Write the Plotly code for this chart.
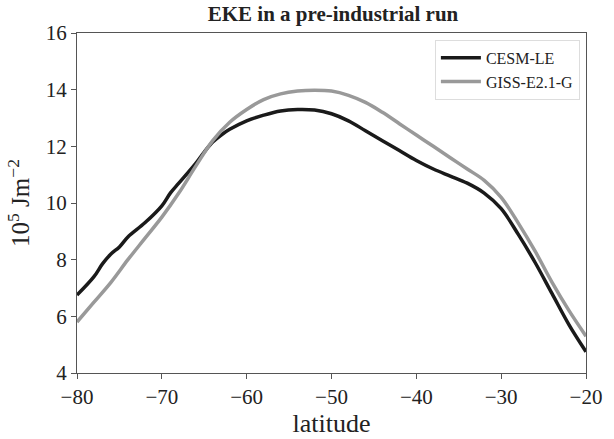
import plotly.graph_objects as go

lat = [-80, -78, -77, -76, -75, -74, -72, -70, -69, -68, -66, -65, -64, -63, -62, -60,
       -58, -56, -54, -52, -50, -48, -46, -44, -42, -40, -38, -36, -34, -32, -30,
       -28, -26, -24, -22, -20]
cesm = [6.75, 7.4, 7.85, 8.2, 8.45, 8.8, 9.3, 9.9, 10.35, 10.7, 11.4, 11.8, 12.15, 12.4,
        12.6, 12.9, 13.1, 13.25, 13.3, 13.28, 13.15, 12.9, 12.55, 12.2, 11.85, 11.5,
        11.2, 10.95, 10.7, 10.35, 9.8, 8.9, 7.9, 6.8, 5.7, 4.75]

lat_g = [-80, -78, -76, -74, -72, -70, -68, -66, -64, -62, -60, -58, -56, -54, -52, -50,
         -48, -46, -44, -42, -40, -38, -36, -34, -32, -30, -28, -26, -24, -22, -20]
giss = [5.8, 6.5, 7.2, 8.0, 8.75, 9.5, 10.35, 11.3, 12.2, 12.85, 13.3, 13.65, 13.85,
        13.95, 13.98, 13.95, 13.8, 13.55, 13.2, 12.8, 12.4, 12.0, 11.6, 11.2, 10.8,
        10.2, 9.3, 8.3, 7.2, 6.2, 5.3]

font = "Liberation Serif"

fig = go.Figure()
fig.add_trace(go.Scatter(x=lat, y=cesm, mode="lines", name="CESM-LE",
                         line=dict(color="#1a1a1a", width=3.5, shape="spline")))
fig.add_trace(go.Scatter(x=lat_g, y=giss, mode="lines", name="GISS-E2.1-G",
                         line=dict(color="#999999", width=3.5, shape="spline")))

axis_common = dict(showline=True, linecolor="#555555", linewidth=1.2, mirror=True,
                   ticks="outside", ticklen=5, tickcolor="#555555", showgrid=False,
                   zeroline=False, tickfont=dict(family=font, size=21, color="#222222"))

fig.update_layout(
    width=614, height=439,
    margin=dict(l=77, r=25, t=33, b=56),
    paper_bgcolor="white", plot_bgcolor="white",
    font=dict(family=font, color="#222222"),
    title=dict(text="<b>EKE in a pre-industrial run</b>", x=333 / 614, xanchor="center",
               y=0.985, yanchor="top", font=dict(family=font, size=21, color="#222222")),
    xaxis=dict(range=[-80, -20], tickvals=[-80, -70, -60, -50, -40, -30, -20],
               title=dict(text="latitude", font=dict(family=font, size=26, color="#222222"),
                          standoff=0),
               **axis_common),
    yaxis=dict(range=[4, 16], tickvals=[4, 6, 8, 10, 12, 14, 16],
               title=dict(text="10<sup>5</sup> Jm<sup>\u22122</sup>",
                          font=dict(family=font, size=25, color="#222222"), standoff=8),
               **axis_common),
    legend=dict(x=0.988, y=0.98, xanchor="right", yanchor="top",
                bgcolor="rgba(255,255,255,0.9)", bordercolor="#dddddd", borderwidth=1,
                font=dict(family=font, size=16, color="#222222"), itemwidth=40,
                tracegroupgap=0),
    showlegend=True,
)

fig.write_html("out.html")
